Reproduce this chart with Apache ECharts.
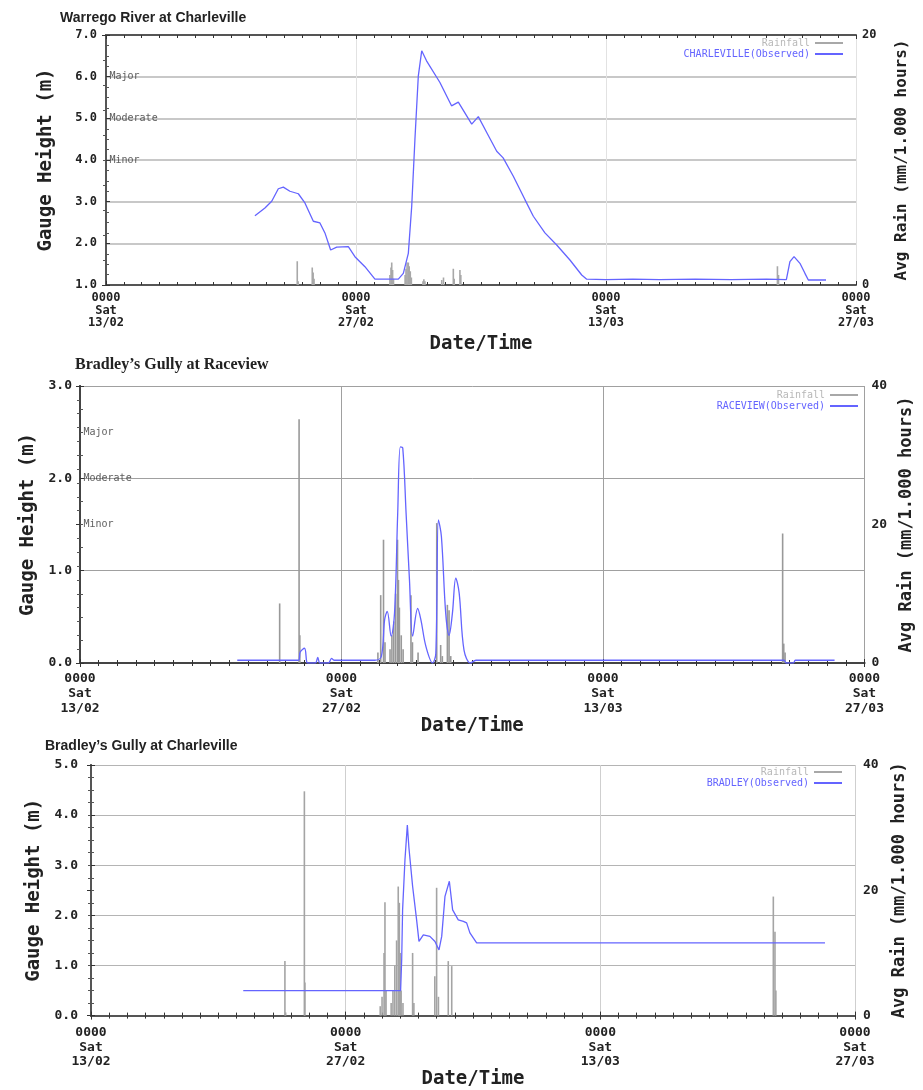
<!DOCTYPE html>
<html>
<head>
<meta charset="utf-8">
<title>Gauge height and rainfall</title>
<script src="https://cdn.jsdelivr.net/npm/echarts@6/dist/echarts.min.js"></script>
<style>
  html, body { margin: 0; padding: 0; background: #fff; }
  #main { width: 923px; height: 1090px; }
</style>
</head>
<body>
<div id="main"></div>
<script>
// x values are days after 0000 Sat 13/02
const xTickLabels = ['0000\nSat\n13/02', '0000\nSat\n27/02', '0000\nSat\n13/03', '0000\nSat\n27/03'];

// Warrego River at Charleville: [day, gauge height m]
const warregoLevel = [
  [8.34, 2.66], [8.9, 2.85], [9.28, 3.01], [9.65, 3.31], [9.93, 3.35], [10.3, 3.25], [10.77, 3.19],
  [11.14, 2.97], [11.61, 2.53], [11.98, 2.49], [12.26, 2.25], [12.58, 1.84], [12.92, 1.91], [13.57, 1.92],
  [13.94, 1.68], [14.5, 1.44], [15.06, 1.14], [15.72, 1.14], [16.37, 1.14], [16.65, 1.28], [16.93, 1.76],
  [17.12, 2.89], [17.3, 4.49], [17.49, 6.02], [17.68, 6.62], [17.95, 6.38], [18.7, 5.86], [19.35, 5.3],
  [19.73, 5.39], [20.48, 4.86], [20.85, 5.04], [21.32, 4.66], [21.88, 4.21], [22.24, 4.05], [22.81, 3.61],
  [23.46, 3.05], [23.93, 2.65], [24.58, 2.25], [25.24, 1.96], [25.98, 1.6], [26.64, 1.24], [26.92, 1.14],
  [28, 1.13], [29.5, 1.14], [31, 1.13], [33, 1.14], [35, 1.13], [37, 1.14], [38.1, 1.13], [38.3, 1.56],
  [38.53, 1.68], [38.86, 1.52], [39.14, 1.28], [39.33, 1.12], [40.32, 1.12]
];
// [day, mm]
const warregoRain = [
  [10.71, 1.9], [10.76, 0.3], [11.55, 1.4], [11.6, 1.0], [11.65, 0.5], [15.9, 0.8], [15.96, 1.4],
  [16.0, 1.8], [16.05, 1.2], [16.1, 0.5], [16.75, 0.8], [16.8, 1.3], [16.86, 1.8], [16.93, 1.8],
  [16.98, 1.5], [17.04, 1.1], [17.1, 0.6], [17.75, 0.3], [17.8, 0.46], [17.86, 0.3], [18.8, 0.4],
  [18.9, 0.6], [19.45, 1.3], [19.5, 0.5], [19.82, 1.2], [19.87, 0.8], [37.6, 1.5], [37.66, 0.8]
];
const warregoFloodLevels = [[0, 6.0, 'Major'], [0, 5.0, 'Moderate'], [0, 4.0, 'Minor']];

// Bradley's Gully at Raceview
const raceviewLevel = [
  [8.42, 0.03], [11.7, 0.03], [11.79, 0.12], [12.02, 0.16], [12.14, 0.01], [12.2, 0], [12.6, 0],
  [12.73, 0.06], [12.85, 0], [13.3, 0], [13.47, 0.05], [13.6, 0.03], [15.78, 0.03], [16.13, 0.07],
  [16.31, 0.47], [16.45, 0.56], [16.66, 0.29], [16.84, 0.54], [17.01, 1.62], [17.15, 2.34], [17.28, 2.33],
  [17.46, 1.62], [17.64, 0.9], [17.81, 0.29], [18.08, 0.59], [18.25, 0.47], [18.52, 0.18], [18.88, 0],
  [19.05, 0.1], [19.19, 1.55], [19.35, 1.37], [19.58, 0.54], [19.76, 0.3], [19.94, 0.54], [20.12, 0.92],
  [20.3, 0.76], [20.56, 0.14], [20.91, 0], [21.2, 0.03], [37.7, 0.03], [37.8, 0], [38.2, 0], [38.3, 0.03],
  [40.4, 0.03]
];
const raceviewRain = [
  [10.69, 8.6], [11.73, 35.2], [11.77, 4], [15.95, 1.5], [16.1, 9.8], [16.25, 17.8], [16.33, 3],
  [16.6, 2], [16.7, 4], [16.8, 6], [16.9, 10], [17.0, 17.8], [17.05, 12], [17.1, 8], [17.2, 4],
  [17.3, 2], [17.72, 9.8], [17.8, 3], [18.1, 1.5], [19.1, 20.2], [19.31, 2.6], [19.4, 1],
  [19.67, 8.4], [19.76, 7.6], [19.85, 1], [37.62, 18.7], [37.68, 2.8], [37.75, 1.5]
];
const raceviewFloodLevels = [[0, 2.5, 'Major'], [0, 2.0, 'Moderate'], [0, 1.5, 'Minor']];

// Bradley's Gully at Charleville
const bradleyLevel = [
  [8.37, 0.5], [17.02, 0.5], [17.08, 1.12], [17.13, 2.11], [17.26, 3.11], [17.39, 3.8], [17.48, 3.34],
  [17.57, 3.34], [17.68, 2.58], [17.9, 1.91], [18.03, 1.48], [18.27, 1.61], [18.63, 1.58], [18.91, 1.48],
  [19.13, 1.31], [19.28, 1.58], [19.46, 2.38], [19.7, 2.68], [19.88, 2.11], [20.19, 1.91], [20.47, 1.88],
  [20.65, 1.85], [20.83, 1.65], [21.2, 1.45], [40.35, 1.45]
];
const bradleyRain = [
  [10.66, 8.7], [10.7, 0.5], [11.73, 35.8], [11.76, 5.3], [15.9, 1.5], [16.0, 3], [16.11, 10],
  [16.16, 18.1], [16.22, 4], [16.5, 2], [16.6, 4], [16.7, 8], [16.8, 12], [16.89, 20.6], [16.95, 18],
  [17.0, 10], [17.05, 4], [17.15, 2], [17.68, 10], [17.75, 2], [18.9, 6.3], [19.0, 20.4], [19.1, 3],
  [19.64, 8.7], [19.83, 7.9], [37.51, 19], [37.6, 13.4], [37.65, 4]
];

const mono = 'DejaVu Sans Mono';
const blue = '#6464ff';

var panels = [
  {
    title: 'Warrego River at Charleville', titleFont: 'Liberation Sans', titleSize: 14, titleLeft: 55, titleTop: 6,
    grid: { left: 106, top: 35, width: 750, height: 250 },
    yMin: 1, yMax: 7, rainMax: 20, tickSize: 12, lineHeight: 12.5, labelMargin: 7, yMargin: 9, rMargin: 6,
    leftName: 50, rightName: 38, xName: 50, nameSize: 19, rNameSize: 16,
    gridH: { color: '#c8c8c8', width: 2 }, gridV: { color: '#e2e2e2', width: 1 }, axisColor: '#555',
    station: 'CHARLEVILLE(Observed)', level: warregoLevel, rain: warregoRain, flood: warregoFloodLevels,
    legendRight: 80, legendTop: 38, rainColor: '#a8a8a8', smooth: false
  },
  {
    title: 'Bradley\u2019s Gully at Raceview', titleFont: 'Liberation Serif', titleSize: 16, titleLeft: 70, titleTop: 352,
    grid: { left: 80, top: 386, width: 790, height: 277 },
    yMin: 0, yMax: 3, rainMax: 40, tickSize: 13, lineHeight: 15, labelMargin: 8, yMargin: 8, rMargin: 7,
    leftName: 38, rightName: 30, xName: 50, nameSize: 19, rNameSize: 17,
    gridH: { color: '#a0a0a0', width: 1 }, gridV: { color: '#a0a0a0', width: 1 }, axisColor: '#444',
    station: 'RACEVIEW(Observed)', level: raceviewLevel, rain: raceviewRain, flood: raceviewFloodLevels,
    legendRight: 65, legendTop: 390, rainColor: '#999', smooth: 0.35
  },
  {
    title: 'Bradley\u2019s Gully at Charleville', titleFont: 'Liberation Sans', titleSize: 14, titleLeft: 40, titleTop: 734,
    grid: { left: 91, top: 765, width: 764, height: 251 },
    yMin: 0, yMax: 5, rainMax: 40, tickSize: 13, lineHeight: 14.5, labelMargin: 10, yMargin: 13, rMargin: 8,
    leftName: 45, rightName: 36, xName: 52, nameSize: 19, rNameSize: 17,
    gridH: { color: '#b4b4b4', width: 1 }, gridV: { color: '#cfcfcf', width: 1 }, axisColor: '#555',
    station: 'BRADLEY(Observed)', level: bradleyLevel, rain: bradleyRain, flood: null,
    legendRight: 81, legendTop: 767, rainColor: '#a4a4a4', smooth: false
  }
];

var titles = [], grids = [], xAxes = [], yAxes = [], legends = [], series = [];

panels.forEach(function (p, i) {
  titles.push({
    text: p.title, left: p.titleLeft, top: p.titleTop,
    textStyle: { fontFamily: p.titleFont, fontSize: p.titleSize, fontWeight: 'bold', color: '#222' }
  });
  grids.push(p.grid);

  // bottom axis with labels
  xAxes.push({
    gridIndex: i, type: 'value', min: 0, max: 42, interval: 14,
    name: 'Date/Time', nameLocation: 'middle', nameGap: p.xName,
    nameTextStyle: { fontFamily: mono, fontSize: p.nameSize, fontWeight: 'bold', color: '#222' },
    axisLine: { show: true, lineStyle: { color: p.axisColor, width: 2 } },
    axisTick: { show: true, inside: true, length: 4, lineStyle: { color: '#333' } },
    minorTick: { show: true, splitNumber: 14, length: 3, lineStyle: { color: '#333' } },
    axisLabel: {
      fontFamily: mono, fontSize: p.tickSize, fontWeight: 'bold', color: '#222',
      lineHeight: p.lineHeight, margin: p.labelMargin, showMinLabel: true, showMaxLabel: true,
      formatter: function (v) { return xTickLabels[Math.round(v / 14)]; }
    },
    splitLine: { show: true, lineStyle: p.gridV }
  });
  // top frame edge
  xAxes.push({
    gridIndex: i, type: 'value', position: 'top', min: 0, max: 42, interval: 14,
    axisLine: { show: true, lineStyle: { color: p.axisColor, width: 2 } },
    axisTick: { show: true, inside: true, length: 4, lineStyle: { color: '#333' } },
    minorTick: { show: true, splitNumber: 14, length: 3, lineStyle: { color: '#333' } },
    axisLabel: { show: false }, splitLine: { show: false }
  });

  yAxes.push({
    gridIndex: i, type: 'value', position: 'left', min: p.yMin, max: p.yMax, interval: 1,
    name: 'Gauge Height (m)', nameLocation: 'middle', nameGap: p.leftName, nameRotate: 90,
    nameTextStyle: { fontFamily: mono, fontSize: p.nameSize, fontWeight: 'bold', color: '#222' },
    axisLine: { show: true, lineStyle: { color: p.axisColor, width: 2 } },
    axisTick: { show: true, inside: true, length: 4, lineStyle: { color: '#333' } },
    minorTick: { show: true, splitNumber: 4, length: 3, lineStyle: { color: '#555' } },
    axisLabel: {
      fontFamily: mono, fontSize: p.tickSize, fontWeight: 'bold', color: '#222', margin: p.yMargin,
      formatter: function (v) { return v.toFixed(1); }
    },
    splitLine: { show: true, lineStyle: p.gridH }
  });
  yAxes.push({
    gridIndex: i, type: 'value', position: 'right', min: 0, max: p.rainMax, interval: 20,
    name: 'Avg Rain (mm/1.000 hours)', nameLocation: 'middle', nameGap: p.rightName, nameRotate: 90,
    nameTextStyle: { fontFamily: mono, fontSize: p.rNameSize, fontWeight: 'bold', color: '#222' },
    axisLine: { show: true, lineStyle: { color: p.axisColor, width: 2 } },
    axisTick: { show: true, inside: true, length: 4, lineStyle: { color: '#333' } },
    minorTick: { show: true, splitNumber: 10, length: 3, lineStyle: { color: '#555' } },
    axisLabel: { fontFamily: mono, fontSize: p.tickSize, fontWeight: 'bold', color: '#222', margin: p.rMargin },
    splitLine: { show: false }
  });

  legends.push({
    orient: 'vertical', right: p.legendRight, top: p.legendTop, align: 'right',
    icon: 'rect', itemWidth: 28, itemHeight: 2, itemGap: 1, padding: 0,
    textStyle: { fontFamily: mono, fontSize: 10 },
    data: [
      { name: 'Rainfall', textStyle: { color: '#b8b8b8' } },
      { name: p.station, textStyle: { color: blue } }
    ]
  });

  series.push({
    name: 'Rainfall', type: 'bar', xAxisIndex: i * 2, yAxisIndex: i * 2 + 1,
    data: p.rain, barWidth: 1.6, itemStyle: { color: p.rainColor }, silent: true
  });
  series.push({
    name: p.station, type: 'line', xAxisIndex: i * 2, yAxisIndex: i * 2,
    data: p.level, showSymbol: false, smooth: p.smooth,
    lineStyle: { color: blue, width: 1.3 }, itemStyle: { color: blue }, silent: true
  });
  if (p.flood) {
    series.push({
      type: 'scatter', xAxisIndex: i * 2, yAxisIndex: i * 2,
      data: p.flood, symbolSize: 1, itemStyle: { color: 'rgba(0,0,0,0)' }, silent: true,
      label: {
        show: true, position: 'right', distance: 3,
        fontFamily: mono, fontSize: 10, color: '#333',
        formatter: function (d) { return d.value[2]; }
      }
    });
  }
});

var chart = echarts.init(document.getElementById('main'));
chart.setOption({
  animation: false,
  backgroundColor: '#fff',
  title: titles,
  grid: grids,
  xAxis: xAxes,
  yAxis: yAxes,
  legend: legends,
  series: series
});
</script>
</body>
</html>
